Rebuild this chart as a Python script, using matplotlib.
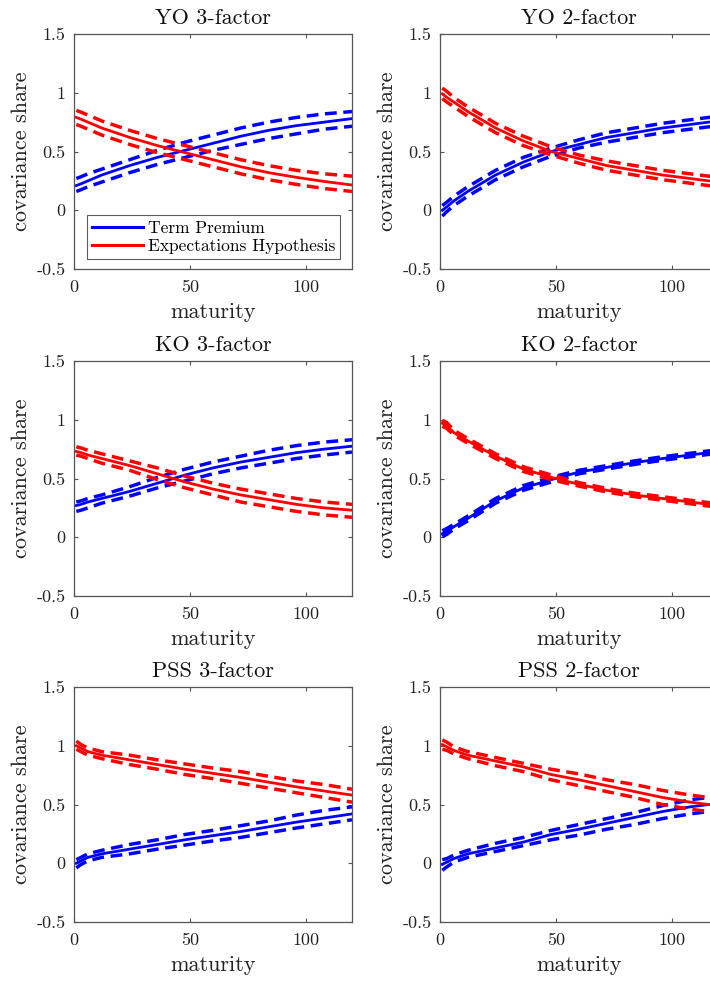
import matplotlib
matplotlib.use("Agg")
import matplotlib.pyplot as plt

plt.rcParams['font.family'] = 'serif'
plt.rcParams['font.serif'] = ['cmr10']
plt.rcParams['mathtext.fontset'] = 'cm'
plt.rcParams['axes.unicode_minus'] = False

# maturities in months
maturity = [1, 3, 6, 12, 24, 36, 48, 60, 72, 84, 96, 108, 120]

titles = ['YO 3-factor', 'YO 2-factor', 'KO 3-factor', 'KO 2-factor',
          'PSS 3-factor', 'PSS 2-factor']

# term premium share: point estimate, upper and lower band
tp_yo3 = [0.21, 0.225, 0.25, 0.30, 0.38, 0.45, 0.51, 0.57, 0.63, 0.68, 0.72, 0.75, 0.78]
tp_yo3_hi = [0.27, 0.285, 0.31, 0.35, 0.43, 0.51, 0.58, 0.64, 0.70, 0.75, 0.79, 0.82, 0.84]
tp_yo3_lo = [0.16, 0.175, 0.20, 0.24, 0.32, 0.39, 0.45, 0.51, 0.56, 0.61, 0.65, 0.69, 0.715]
eh_yo3 = [0.79, 0.775, 0.75, 0.70, 0.62, 0.55, 0.49, 0.43, 0.37, 0.32, 0.28, 0.245, 0.215]
eh_yo3_hi = [0.85, 0.835, 0.81, 0.76, 0.68, 0.61, 0.55, 0.49, 0.43, 0.38, 0.34, 0.31, 0.29]
eh_yo3_lo = [0.73, 0.715, 0.69, 0.64, 0.56, 0.49, 0.43, 0.37, 0.31, 0.26, 0.22, 0.185, 0.16]

tp_yo2 = [0.0, 0.03, 0.08, 0.16, 0.30, 0.41, 0.50, 0.56, 0.62, 0.66, 0.70, 0.73, 0.76]
tp_yo2_hi = [0.04, 0.07, 0.12, 0.20, 0.34, 0.45, 0.53, 0.60, 0.66, 0.70, 0.74, 0.77, 0.80]
tp_yo2_lo = [-0.05, -0.01, 0.04, 0.12, 0.26, 0.37, 0.46, 0.53, 0.58, 0.62, 0.66, 0.69, 0.72]
eh_yo2 = [0.99, 0.96, 0.92, 0.84, 0.70, 0.59, 0.50, 0.44, 0.38, 0.34, 0.30, 0.27, 0.24]
eh_yo2_hi = [1.04, 1.01, 0.96, 0.88, 0.74, 0.63, 0.54, 0.47, 0.42, 0.38, 0.34, 0.31, 0.28]
eh_yo2_lo = [0.95, 0.92, 0.88, 0.80, 0.66, 0.55, 0.47, 0.40, 0.34, 0.30, 0.26, 0.23, 0.20]

tp_ko3 = [0.27, 0.28, 0.30, 0.33, 0.39, 0.46, 0.53, 0.59, 0.64, 0.68, 0.72, 0.75, 0.775]
tp_ko3_hi = [0.30, 0.31, 0.33, 0.36, 0.43, 0.51, 0.58, 0.64, 0.69, 0.74, 0.78, 0.81, 0.83]
tp_ko3_lo = [0.22, 0.23, 0.25, 0.29, 0.35, 0.42, 0.48, 0.54, 0.59, 0.63, 0.67, 0.70, 0.725]
eh_ko3 = [0.73, 0.72, 0.70, 0.67, 0.61, 0.54, 0.47, 0.41, 0.36, 0.32, 0.28, 0.25, 0.23]
eh_ko3_hi = [0.77, 0.76, 0.74, 0.71, 0.65, 0.59, 0.52, 0.46, 0.41, 0.37, 0.33, 0.30, 0.28]
eh_ko3_lo = [0.70, 0.69, 0.67, 0.63, 0.57, 0.49, 0.42, 0.36, 0.30, 0.26, 0.22, 0.19, 0.17]

tp_ko2 = [0.03, 0.05, 0.09, 0.16, 0.31, 0.42, 0.49, 0.555, 0.595, 0.635, 0.67, 0.70, 0.73]
tp_ko2_hi = [0.055, 0.075, 0.11, 0.18, 0.33, 0.44, 0.51, 0.57, 0.61, 0.65, 0.685, 0.715, 0.745]
tp_ko2_lo = [0.005, 0.025, 0.07, 0.14, 0.29, 0.40, 0.47, 0.54, 0.58, 0.62, 0.655, 0.685, 0.715]
eh_ko2 = [0.97, 0.95, 0.89, 0.82, 0.69, 0.58, 0.51, 0.45, 0.40, 0.36, 0.33, 0.30, 0.27]
eh_ko2_hi = [0.995, 0.975, 0.91, 0.84, 0.71, 0.60, 0.53, 0.465, 0.415, 0.375, 0.345, 0.315, 0.285]
eh_ko2_lo = [0.945, 0.925, 0.87, 0.80, 0.67, 0.56, 0.49, 0.435, 0.385, 0.345, 0.315, 0.285, 0.255]

tp_pss3 = [0.00, 0.02, 0.05, 0.08, 0.12, 0.16, 0.20, 0.235, 0.27, 0.31, 0.35, 0.385, 0.42]
tp_pss3_hi = [0.03, 0.05, 0.08, 0.11, 0.16, 0.20, 0.245, 0.28, 0.32, 0.36, 0.41, 0.45, 0.48]
tp_pss3_lo = [-0.04, -0.01, 0.02, 0.05, 0.08, 0.12, 0.155, 0.19, 0.22, 0.26, 0.30, 0.335, 0.37]
eh_pss3 = [1.00, 0.98, 0.95, 0.92, 0.88, 0.84, 0.80, 0.765, 0.73, 0.69, 0.65, 0.615, 0.58]
eh_pss3_hi = [1.04, 1.01, 0.98, 0.95, 0.92, 0.88, 0.845, 0.81, 0.78, 0.74, 0.70, 0.67, 0.63]
eh_pss3_lo = [0.97, 0.95, 0.92, 0.89, 0.84, 0.80, 0.755, 0.72, 0.68, 0.64, 0.60, 0.56, 0.52]

tp_pss2 = [-0.01, 0.01, 0.04, 0.08, 0.13, 0.18, 0.245, 0.29, 0.34, 0.39, 0.44, 0.48, 0.51]
tp_pss2_hi = [0.03, 0.04, 0.07, 0.11, 0.17, 0.22, 0.28, 0.33, 0.38, 0.43, 0.49, 0.54, 0.57]
tp_pss2_lo = [-0.06, -0.03, 0.01, 0.05, 0.10, 0.15, 0.20, 0.24, 0.29, 0.33, 0.38, 0.42, 0.45]
eh_pss2 = [1.01, 0.99, 0.96, 0.92, 0.87, 0.82, 0.755, 0.71, 0.66, 0.61, 0.56, 0.52, 0.49]
eh_pss2_hi = [1.05, 1.03, 0.99, 0.95, 0.90, 0.85, 0.80, 0.76, 0.71, 0.67, 0.62, 0.58, 0.55]
eh_pss2_lo = [0.97, 0.96, 0.93, 0.89, 0.83, 0.78, 0.71, 0.66, 0.61, 0.56, 0.50, 0.46, 0.43]

panels = [
    (tp_yo3, tp_yo3_hi, tp_yo3_lo, eh_yo3, eh_yo3_hi, eh_yo3_lo),
    (tp_yo2, tp_yo2_hi, tp_yo2_lo, eh_yo2, eh_yo2_hi, eh_yo2_lo),
    (tp_ko3, tp_ko3_hi, tp_ko3_lo, eh_ko3, eh_ko3_hi, eh_ko3_lo),
    (tp_ko2, tp_ko2_hi, tp_ko2_lo, eh_ko2, eh_ko2_hi, eh_ko2_lo),
    (tp_pss3, tp_pss3_hi, tp_pss3_lo, eh_pss3, eh_pss3_hi, eh_pss3_lo),
    (tp_pss2, tp_pss2_hi, tp_pss2_lo, eh_pss2, eh_pss2_hi, eh_pss2_lo),
]

yticks = [-0.5, 0, 0.5, 1, 1.5]
ytick_labels = ['-0.5', '0', '0.5', '1', '1.5']
xticks = [0, 50, 100]
xtick_labels = ['0', '50', '100']

W, H = 710, 981
fig = plt.figure(figsize=(W / 100, H / 100), dpi=100)

# axes boxes in pixels: (left, top, width, height); right column runs past the edge
col_left = [74, 440]
row_top = [34, 361, 687]
ax_w, ax_h = 278, 235

axis_grey = '#555555'
dash = (0, (3.4, 1.9))

for k, (tp, tp_hi, tp_lo, eh, eh_hi, eh_lo) in enumerate(panels):
    r, c = divmod(k, 2)
    left = col_left[c]
    top = row_top[r]
    ax = fig.add_axes([left / W, 1 - (top + ax_h) / H, ax_w / W, ax_h / H])

    l1, = ax.plot(maturity, tp, color='b', lw=2.0)
    ax.plot(maturity, tp_hi, color='b', lw=2.5, linestyle=dash)
    ax.plot(maturity, tp_lo, color='b', lw=2.5, linestyle=dash)
    l2, = ax.plot(maturity, eh, color='r', lw=2.0)
    ax.plot(maturity, eh_hi, color='r', lw=2.5, linestyle=dash)
    ax.plot(maturity, eh_lo, color='r', lw=2.5, linestyle=dash)

    ax.set_xlim(0, 120)
    ax.set_ylim(-0.5, 1.5)
    ax.set_xticks(xticks)
    ax.set_xticklabels(xtick_labels)
    ax.set_yticks(yticks)
    ax.set_yticklabels(ytick_labels)
    ax.tick_params(direction='in', length=3, width=0.8, colors=axis_grey,
                   labelcolor='#222222', labelsize=13, top=True, right=True, pad=6)
    ax.tick_params(axis='x', pad=8)
    for s in ax.spines.values():
        s.set_color(axis_grey)
        s.set_linewidth(0.9)

    ax.set_title(titles[k], fontsize=16, pad=7, color='#111111')
    ax.set_xlabel('maturity', fontsize=16, color='#222222', labelpad=5)
    ax.set_ylabel('covariance share', fontsize=16, color='#222222', labelpad=4)

    if k == 0:
        leg = ax.legend([l1, l2], ['Term Premium', 'Expectations Hypothesis'],
                        loc='lower left', bbox_to_anchor=(0.047, 0.042),
                        fontsize=12.5, frameon=True, fancybox=False,
                        handlelength=2.9, handletextpad=0.3, borderpad=0.3,
                        labelspacing=0.15, borderaxespad=0.0)
        leg.get_frame().set_edgecolor('#333333')
        leg.get_frame().set_linewidth(0.8)
        for h in leg.get_lines():
            h.set_linewidth(2.2)

fig.savefig('out.png', dpi=100)
